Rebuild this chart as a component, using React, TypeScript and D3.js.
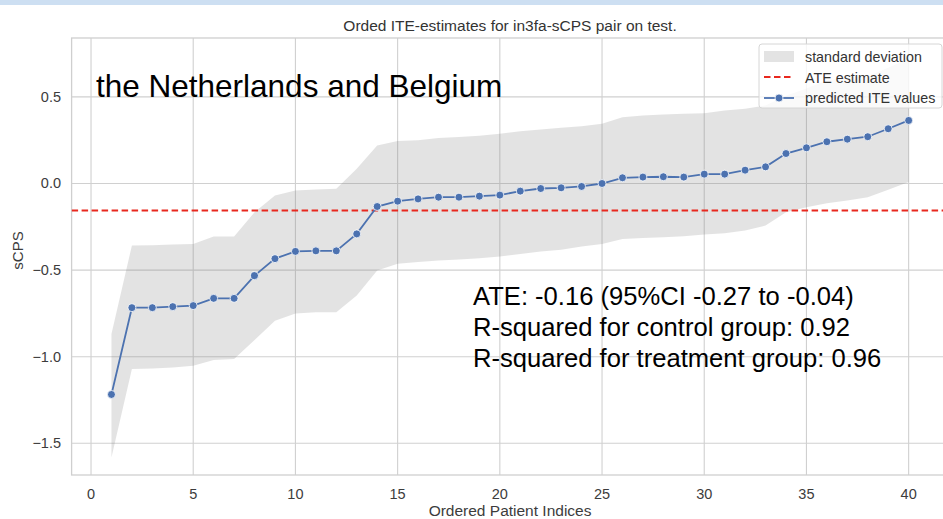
import React, {useEffect, useRef} from 'react';
import * as d3 from "d3"

// values
const patientIdx = d3.range(1, 41)
const iteValues = [-1.218, -0.717, -0.717, -0.711, -0.705, -0.663, -0.663, -0.532, -0.434, -0.392,
    -0.389, -0.389, -0.291, -0.133, -0.102, -0.089, -0.079, -0.079, -0.073, -0.067,
    -0.044, -0.029, -0.025, -0.017, 0.0, 0.033, 0.037, 0.039, 0.037, 0.054,
    0.054, 0.077, 0.096, 0.173, 0.206, 0.241, 0.256, 0.27, 0.316, 0.364]
const sdUpper = [-0.869, -0.358, -0.356, -0.352, -0.349, -0.306, -0.306, -0.166, -0.069, -0.04,
    -0.035, -0.03, 0.085, 0.22, 0.245, 0.25, 0.262, 0.268, 0.276, 0.287,
    0.302, 0.312, 0.322, 0.331, 0.345, 0.383, 0.393, 0.399, 0.403, 0.406,
    0.422, 0.432, 0.45, 0.506, 0.549, 0.596, 0.61, 0.619, 0.668, 0.722]
const sdLower = [-1.582, -1.071, -1.068, -1.062, -1.052, -1.019, -1.013, -0.904, -0.792, -0.75,
    -0.744, -0.744, -0.647, -0.503, -0.464, -0.453, -0.445, -0.439, -0.432, -0.422,
    -0.407, -0.393, -0.382, -0.364, -0.349, -0.32, -0.314, -0.31, -0.304, -0.295,
    -0.287, -0.272, -0.243, -0.166, -0.137, -0.114, -0.098, -0.079, -0.036, 0.008]
const ateEstimate = -0.156
const xTicks = [0, 5, 10, 15, 20, 25, 30, 35, 40]
const yTicks = [0.5, 0.0, -0.5, -1.0, -1.5]
const legendLabels = ["standard deviation", "ATE estimate", "predicted ITE values"]
const statsLines = ["ATE: -0.16 (95%CI -0.27 to -0.04)", "R-squared for control group: 0.92", "R-squared for treatment group: 0.96"]

const W = 943
const H = 519
const FONT = "'Liberation Sans', Arial, sans-serif"
const BLUE = "#4c72b0"

const App = () => {
    const svgRef = useRef(null)
    useEffect(() => {
        const svg = d3.select(svgRef.current)
        svg.selectAll("*").remove()

        const left = 71.6, right = 948.5, top = 38, bottom = 475
        const xScale = d3.scaleLinear().domain([-0.95, 41.95]).range([left, right])
        const yScale = d3.scaleLinear().domain([-1.683, 0.84]).range([bottom, top])

        svg.append("rect").attr("width", W).attr("height", H).attr("fill", "#fff")
        // pale strip at top of the screenshot
        svg.append("rect").attr("width", W).attr("height", 5).attr("fill", "#cddff2")

        const plot = svg.append("g")
        plot.append("clipPath").attr("id", "clip")
            .append("rect").attr("x", left).attr("y", top).attr("width", right - left).attr("height", bottom - top)

        //grid
        plot.selectAll(".gx").data(xTicks).join("line")
            .attr("x1", d => xScale(d)).attr("x2", d => xScale(d))
            .attr("y1", top).attr("y2", bottom)
            .attr("stroke", "#d0d0d0").attr("stroke-width", 1.1)
        plot.selectAll(".gy").data(yTicks).join("line")
            .attr("x1", left).attr("x2", right)
            .attr("y1", d => yScale(d)).attr("y2", d => yScale(d))
            .attr("stroke", "#d0d0d0").attr("stroke-width", 1.1)

        //frame
        plot.append("rect")
            .attr("x", left).attr("y", top).attr("width", right - left).attr("height", bottom - top)
            .attr("fill", "none").attr("stroke", "#cfcfcf").attr("stroke-width", 1.3)

        const inner = plot.append("g").attr("clip-path", "url(#clip)")

        // std band
        const area = d3.area()
            .x((d, i) => xScale(patientIdx[i]))
            .y0((d, i) => yScale(sdLower[i]))
            .y1((d, i) => yScale(sdUpper[i]))
        inner.append("path")
            .attr("d", area(sdUpper))
            .attr("fill", "#808080").attr("fill-opacity", 0.22)

        // ATE
        inner.append("line")
            .attr("x1", left).attr("x2", right)
            .attr("y1", yScale(ateEstimate)).attr("y2", yScale(ateEstimate))
            .attr("stroke", "#e8281e").attr("stroke-width", 1.8).attr("stroke-dasharray", "6.5,3.5")

        const line = d3.line()
            .x((d, i) => xScale(patientIdx[i]))
            .y(d => yScale(d))
        inner.append("path")
            .attr("d", line(iteValues))
            .attr("fill", "none").attr("stroke", BLUE).attr("stroke-width", 1.8)
        inner.selectAll(".pt").data(iteValues).join("circle")
            .attr("cx", (d, i) => xScale(patientIdx[i]))
            .attr("cy", d => yScale(d))
            .attr("r", 4)
            .attr("fill", BLUE).attr("stroke", "#fff").attr("stroke-width", 0.8)

        //tick labels
        svg.selectAll(".xt").data(xTicks).join("text")
            .attr("x", d => xScale(d)).attr("y", 499)
            .attr("text-anchor", "middle")
            .attr("font-family", FONT).attr("font-size", 14.5).attr("fill", "#3c3c3c")
            .text(d => d)
        svg.selectAll(".yt").data(yTicks).join("text")
            .attr("x", 61).attr("y", d => yScale(d) + 5)
            .attr("text-anchor", "end")
            .attr("font-family", FONT).attr("font-size", 14.5).attr("fill", "#3c3c3c")
            .text(d => d3.format(".1f")(d).replace("-", "\u2212"))

        svg.append("text")
            .attr("x", (left + right) / 2).attr("y", 516)
            .attr("text-anchor", "middle")
            .attr("font-family", FONT).attr("font-size", 15.5).attr("fill", "#3c3c3c")
            .text("Ordered Patient Indices")
        svg.append("text")
            .attr("transform", `translate(23, ${(top + bottom) / 2 - 6}) rotate(-90)`)
            .attr("text-anchor", "middle")
            .attr("font-family", FONT).attr("font-size", 15).attr("fill", "#3c3c3c")
            .text("sCPS")
        svg.append("text")
            .attr("x", (left + right) / 2).attr("y", 31)
            .attr("text-anchor", "middle")
            .attr("font-family", FONT).attr("font-size", 15.5).attr("fill", "#333")
            .text("Orded ITE-estimates for in3fa-sCPS pair on test.")

        // annotations
        svg.append("text")
            .attr("x", 96).attr("y", 97)
            .attr("font-family", FONT).attr("font-size", 31.5).attr("fill", "#000")
            .text("the Netherlands and Belgium")
        svg.selectAll(".st").data(statsLines).join("text")
            .attr("x", 473).attr("y", (d, i) => 305 + i * 31)
            .attr("font-family", FONT).attr("font-size", 25.6).attr("fill", "#000")
            .text(d => d)

        //legend
        const lg = svg.append("g")
        lg.append("rect")
            .attr("x", 759).attr("y", 44).attr("width", 183).attr("height", 64).attr("rx", 3)
            .attr("fill", "#fff").attr("fill-opacity", 0.8).attr("stroke", "#d6d6d6")
        lg.append("rect").attr("x", 764).attr("y", 51).attr("width", 30).attr("height", 11)
            .attr("fill", "#808080").attr("fill-opacity", 0.22)
        lg.append("line").attr("x1", 764).attr("x2", 794).attr("y1", 77).attr("y2", 77)
            .attr("stroke", "#e8281e").attr("stroke-width", 1.8).attr("stroke-dasharray", "6.5,3.5")
        lg.append("line").attr("x1", 764).attr("x2", 794).attr("y1", 98).attr("y2", 98)
            .attr("stroke", BLUE).attr("stroke-width", 1.8)
        lg.append("circle").attr("cx", 779).attr("cy", 98).attr("r", 4)
            .attr("fill", BLUE).attr("stroke", "#fff").attr("stroke-width", 0.8)
        lg.selectAll(".lt").data(legendLabels).join("text")
            .attr("x", 805).attr("y", (d, i) => 62 + i * 20.5)
            .attr("font-family", FONT).attr("font-size", 14.3).attr("fill", "#333")
            .text(d => d)
    }, [])

    return (
        <svg ref={svgRef} width={W} height={H}
             style={{position: "absolute", left: 0, top: 0, display: "block"}}>
        </svg>
    );
};

export default App;
